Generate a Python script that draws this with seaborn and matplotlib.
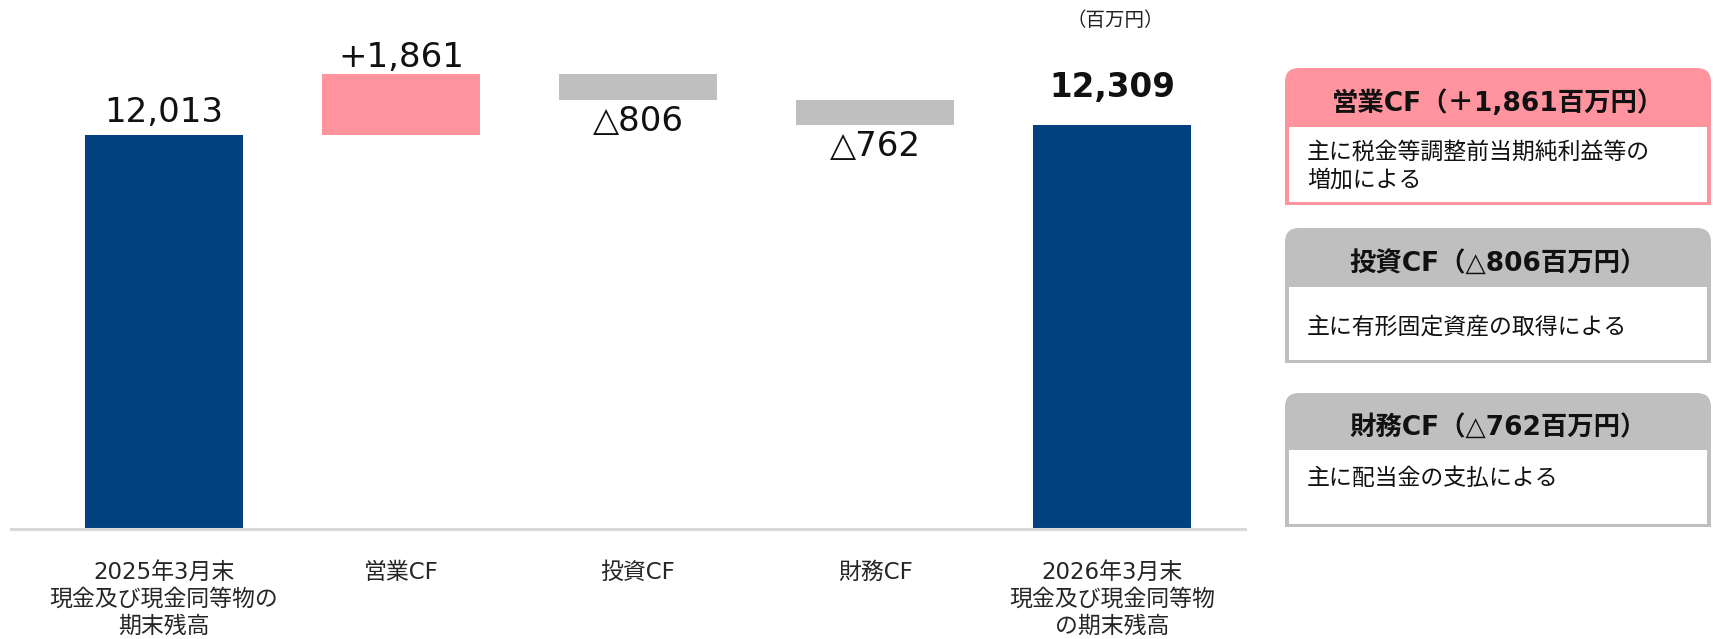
import matplotlib
matplotlib.use("Agg")
import matplotlib.pyplot as plt
import numpy as np
import seaborn as sns
from matplotlib.patches import FancyBboxPatch, Rectangle

categories = ["2025年3月末\n現金及び現金同等物の\n期末残高", "営業CF", "投資CF", "財務CF",
              "2026年3月末\n現金及び現金同等物\nの期末残高"]
changes = [12013, 1861, -806, -762, 12309]
is_total = [True, False, False, False, True]
value_labels = ["12,013", "+1,861", "△806", "△762", "12,309"]
unit_label = "（百万円）"

box_titles = ["営業CF（＋1,861百万円）", "投資CF（△806百万円）", "財務CF（△762百万円）"]
box_texts = ["主に税金等調整前当期純利益等の\n増加による", "主に有形固定資産の取得による", "主に配当金の支払による"]

NAVY = "#02417F"
PINK = "#FF949E"
GRAY = "#BFBFBF"

sns.set_style("white")
plt.rcParams['font.family'] = ['DejaVu Sans', 'Noto Sans CJK JP']

# waterfall bottoms / heights
bottoms = []
heights = []
run = 0
for ch, tot in zip(changes, is_total):
    if tot:
        bottoms.append(0)
        heights.append(ch)
        run = ch
    else:
        end = run + ch
        bottoms.append(min(run, end))
        heights.append(abs(ch))
        run = end
colors = []
for ch, tot in zip(changes, is_total):
    colors.append(NAVY if tot else (PINK if ch > 0 else GRAY))

W, H = 1713, 639
fig = plt.figure(figsize=(W / 100, H / 100), dpi=100)
ax = fig.add_axes([11 / W, (H - 529) / H, (1245 - 11) / W, (529 - 20) / H])

sns.barplot(x=categories, y=heights, color=NAVY, width=0.667, ax=ax)
for p, b, c in zip(ax.patches, bottoms, colors):
    p.set_y(b)
    p.set_facecolor(c)
    p.set_edgecolor("none")

ax.set_xlim(-0.645, 4.56)
ax.set_ylim(0, (529 - 20) / 0.0328)
for s in ["top", "left", "right"]:
    ax.spines[s].set_visible(False)
ax.spines["bottom"].set_color("#D9D9D9")
ax.spines["bottom"].set_linewidth(2.2)
ax.set_yticks([])
ax.tick_params(axis="x", length=0, pad=23, labelsize=16.5)
for t in ax.get_xticklabels():
    t.set_linespacing(1.22)
    t.set_verticalalignment("top")

# value labels (offsets in points from bar edge)
offsets = [16.5, 12, -15, -15.5, 27]
sizes = [24.5, 24.5, 24.5, 24.5, 23.5]
for i, (lab, b, h) in enumerate(zip(value_labels, bottoms, heights)):
    y = b + h if offsets[i] > 0 else b
    ax.annotate(lab, (i, y), xytext=(0, offsets[i]), textcoords="offset points",
                ha="center", va="center", fontsize=sizes[i],
                fontweight="bold" if i == 4 else "normal", color="#111111")

fig.text(1115 / W, 1 - 21 / H, unit_label, ha="center", va="center", fontsize=14,
         color="#222222", family=['Noto Sans CJK JP', 'DejaVu Sans'])

# right side boxes in pixel coordinates
ov = fig.add_axes([0, 0, 1, 1])
ov.set_xlim(0, W)
ov.set_ylim(H, 0)
ov.axis("off")
ov.patch.set_alpha(0)

box_geo = [(68, 127, 205, 141), (228, 287, 363, 316), (393, 450, 527, 467)]
box_cols = [PINK, GRAY, GRAY]
x0, x1 = 1285, 1711
for (top, hb, bot, ty), col, title, body in zip(box_geo, box_cols, box_titles, box_texts):
    ov.add_patch(FancyBboxPatch((x0, top), x1 - x0, bot - top,
                                boxstyle="round,pad=0,rounding_size=14",
                                facecolor=col, edgecolor="none", zorder=1))
    ov.add_patch(Rectangle((x0, bot - 16), x1 - x0, 16, facecolor=col, edgecolor="none", zorder=1))
    ov.add_patch(Rectangle((x0 + 4, hb), x1 - x0 - 8, bot - hb - 3,
                           facecolor="white", edgecolor="none", zorder=2))
    ov.text((x0 + x1) / 2, (top + hb) / 2 + 6, title, ha="center", va="center",
            fontsize=19, fontweight="bold", color="#111111", zorder=3)
    ov.text(1307, ty, body, ha="left", va="top", fontsize=16.5, color="#111111",
            linespacing=1.25, zorder=3)

fig.savefig("out.png", dpi=100)
